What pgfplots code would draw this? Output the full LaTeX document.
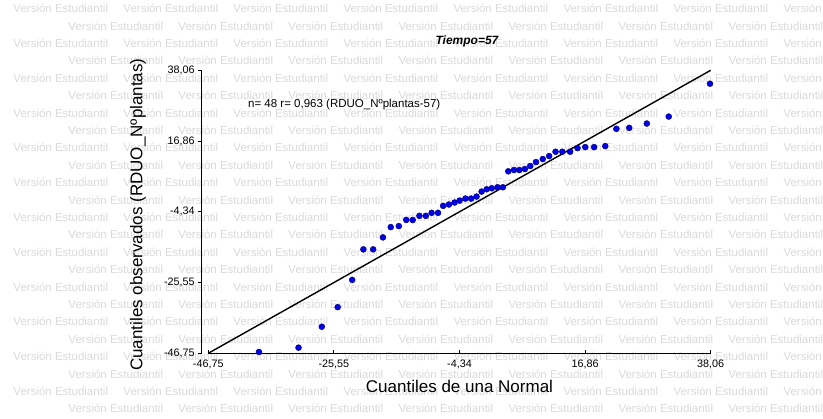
\documentclass[border=0pt]{standalone}
\usepackage{pgfplots}
\pgfplotsset{compat=1.18}
\usepackage{fontspec}
\setmainfont{Liberation Sans}
\definecolor{wm}{RGB}{218,218,218}
\definecolor{dotfill}{RGB}{0,0,235}
\definecolor{dotedge}{RGB}{0,0,110}
\begin{document}
\begin{tikzpicture}[x=1pt,y=1pt]
\useasboundingbox (-208.3,-65.7) rectangle (614.7,353.3);
\begin{scope}[shift={(-208.3,-65.7)}]
\fill[white] (0,0) rectangle (823,419);
% watermark
\foreach \k in {0,...,23}{
  \pgfmathsetmacro{\yy}{419-(8.5+17.4*\k)}
  \pgfmathsetmacro{\xo}{13.3+55*mod(\k,2)}
  \foreach \n in {0,...,7}{
    \node[anchor=west,inner sep=0pt,text=wm,font=\fontsize{11.5}{13}\selectfont]
      at ({\xo+110*\n},\yy) {Versión Estudiantil};
  }
}
\end{scope}
\begin{axis}[
  scale only axis, width=502.4pt, height=283pt,
  xmin=-46.75, xmax=38.06, ymin=-46.75, ymax=38.06,
  axis x line=bottom, axis y line=left,
  axis y line shift=6.6pt,
  axis line style={-, black, line width=0.9pt},
  clip=false,
  xtick={-46.75,-25.55,-4.34,16.86,38.06},
  ytick={-46.75,-25.55,-4.34,16.86,38.06},
  xticklabels={{-46,75},{-25,55},{-4,34},{16,86},{38,06}},
  yticklabels={{-46,75},{-25,55},{-4,34},{16,86},{38,06}},
  xtick align=inside, ytick align=outside,
  major tick length=3.5pt,
  tick style={black, line width=0.9pt},
  ticklabel style={font=\fontsize{10.8}{12}\selectfont},
  xticklabel style={yshift=-3.5pt},
  xlabel={Cuantiles de una Normal},
  ylabel={Cuantiles observados (RDUO\_Nºplantas)},
  label style={font=\fontsize{17}{19}\selectfont},
  xlabel style={at={(axis description cs:0.5,-0.118)}, anchor=center},
  ylabel style={at={(axis description cs:-0.14,0.49)}, anchor=center},
]
\addplot[black, line width=1.4pt] coordinates {(-46.75,-46.75) (38.06,38.06)};
\addplot[only marks, mark=*, mark size=3pt,
  mark options={fill=dotfill, draw=dotedge, line width=0.4pt}] coordinates {
(-38.20,-46.35) (-31.52,-45.06) (-27.59,-38.79) (-24.91,-32.92)
(-22.46,-24.76) (-20.57,-15.60) (-18.92,-15.60) (-17.27,-12.02)
(-15.95,-8.94) (-14.59,-8.64) (-13.33,-6.78) (-12.25,-6.82)
(-11.11,-5.56) (-10.03,-5.56) (-9.05,-4.66) (-7.97,-4.66)
(-7.11,-2.57) (-6.14,-2.17) (-5.17,-1.57) (-4.32,-0.98)
(-3.35,-0.38) (-2.38,-0.38) (-1.47,0.22) (-0.61,1.71)
(0.24,2.41) (1.10,2.71) (2.07,3.01) (2.98,3.01)
(3.89,7.78) (4.86,8.17) (5.77,8.17) (6.69,8.47)
(7.60,9.37) (8.57,10.56) (9.71,11.46) (10.79,12.35)
(11.87,13.65) (13.01,13.65) (14.33,13.65) (15.58,14.74)
(16.89,15.04) (18.38,15.04) (20.26,15.34) (22.14,20.51)
(24.31,20.81) (27.28,22.10) (30.98,24.19) (37.94,34.04)
};
\end{axis}
\begin{scope}[shift={(-208.3,-65.7)}]
\node[font=\fontsize{12}{14}\selectfont\bfseries\itshape, inner sep=0pt] at (467,{419-41.7}) {Tiempo=57};
\node[anchor=west, font=\fontsize{11.5}{13}\selectfont, inner sep=0pt] at (248,{419-105}) {n= 48 r= 0,963 (RDUO\_Nºplantas-57)};
\end{scope}
\end{tikzpicture}
\end{document}
